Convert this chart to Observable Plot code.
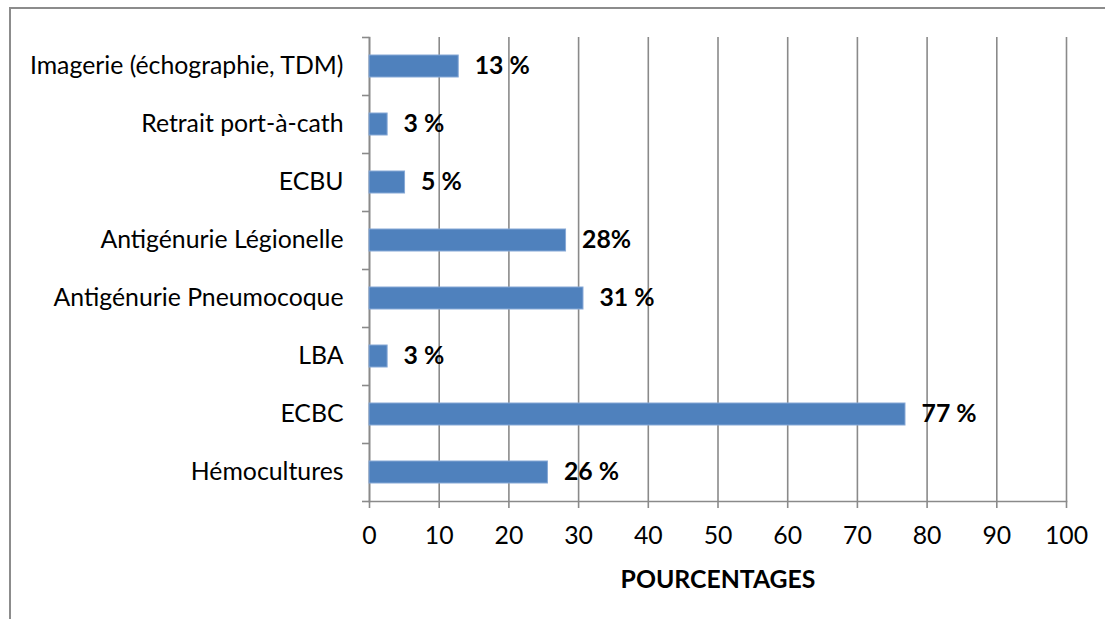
<!DOCTYPE html>
<html><head><meta charset="utf-8">
<script src="https://cdn.jsdelivr.net/npm/d3@7"></script>
<script src="https://cdn.jsdelivr.net/npm/@observablehq/plot@0.6"></script>
<style>
body{margin:0;background:#fff;}
#wrap{position:relative;width:1105px;height:619px;overflow:hidden;}
#border{position:absolute;left:9px;top:7px;width:1200px;height:700px;border-left:2px solid #8c8c8c;border-top:2px solid #8c8c8c;}
#chart{position:absolute;left:0;top:0;}
g[aria-label="x-axis label"] text{font-weight:bold;}
</style></head><body>
<div id="wrap"><div id="border"></div><div id="chart"></div></div>
<script>
const categories = ["Imagerie (échographie, TDM)", "Retrait port-à-cath", "ECBU", "Antigénurie Légionelle", "Antigénurie Pneumocoque", "LBA", "ECBC", "Hémocultures"];
const values = [12.8, 2.6, 5.1, 28.2, 30.7, 2.6, 76.9, 25.6];
const valueLabels = ["13 %", "3 %", "5 %", "28%", "31 %", "3 %", "77 %", "26 %"];
const xTicks = [0, 10, 20, 30, 40, 50, 60, 70, 80, 90, 100];
const axisTitle = "POURCENTAGES";

const data = categories.map((c, i) => ({cat: c, value: values[i], label: valueLabels[i]}));
const gray = "#8a8a8a";

const chart = Plot.plot({
  width: 1105,
  height: 619,
  marginLeft: 369,
  marginRight: 39,
  marginTop: 37,
  marginBottom: 118,
  style: {fontFamily: "Lato, sans-serif", fontSize: "24.8px", color: "#000", background: "transparent"},
  x: {domain: [0, 100]},
  y: {domain: categories, padding: 0},
  marks: [
    Plot.gridX(xTicks, {stroke: gray, strokeOpacity: 1, strokeWidth: 1.6}),
    Plot.frame({anchor: "left", stroke: gray, strokeOpacity: 1, strokeWidth: 1.6}),
    Plot.frame({anchor: "bottom", stroke: gray, strokeOpacity: 1, strokeWidth: 1.6}),
    Plot.barX(data, {y: "cat", x: "value", fill: "#4F81BD", stroke: "#86a8d6", strokeWidth: 1, insetTop: 18, insetBottom: 18}),
    Plot.text(data, {y: "cat", x: "value", text: "label", dx: 16, textAnchor: "start", fontWeight: "bold", fill: "#000"}),
    Plot.axisX({ticks: xTicks, tickSize: 7, tickPadding: 18, stroke: gray, strokeOpacity: 1, strokeWidth: 1.6,
      label: axisTitle, labelAnchor: "center", labelArrow: "none", labelOffset: 86}),
    Plot.axisY({tickSize: 0, tickPadding: 26, label: null}),
    Plot.axisY({tickSize: 7, tickFormat: () => "", dy: -29, stroke: gray, strokeOpacity: 1, strokeWidth: 1.6, label: null}),
    Plot.axisY({ticks: [categories[categories.length - 1]], tickSize: 7, tickFormat: () => "", dy: 29, stroke: gray, strokeOpacity: 1, strokeWidth: 1.6, label: null})
  ]
});
document.getElementById("chart").appendChild(chart);
</script>
</body></html>
